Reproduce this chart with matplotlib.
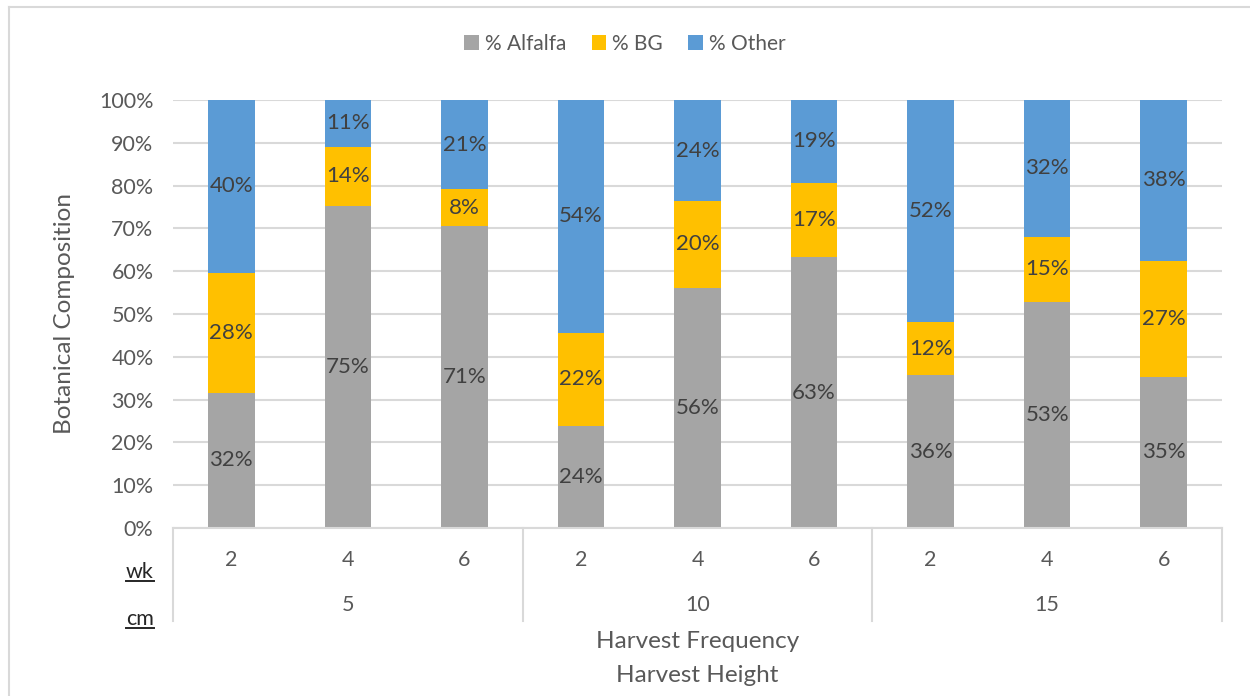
import matplotlib
matplotlib.use("Agg")
import matplotlib.pyplot as plt
from matplotlib.lines import Line2D
from matplotlib.patches import Patch
import matplotlib.transforms as mtransforms

plt.rcParams['font.family'] = ['Lato', 'DejaVu Sans']

# Harvest frequency (weeks) within harvest height (cm)
heights = ["5", "10", "15"]
frequencies = ["2", "4", "6"]
tick_labels = frequencies * len(heights)

alfalfa = [31.6, 75.3, 70.6, 23.8, 56.1, 63.3, 35.7, 52.8, 35.3]
bg = [28.0, 13.8, 8.5, 21.8, 20.3, 17.4, 12.4, 15.2, 27.1]
other = [40.4, 10.9, 20.9, 54.4, 23.6, 19.3, 51.9, 32.0, 37.6]

series_names = ["% Alfalfa", "% BG", "% Other"]
colors = ["#A5A5A5", "#FFC000", "#5B9BD5"]

W, H = 1250, 696
fig = plt.figure(figsize=(W / 100, H / 100), dpi=100)
fig.patch.set_facecolor("white")

left_px, right_px, top_px, bottom_px = 173, 1222, 100, 528
ax = fig.add_axes([left_px / W, 1 - bottom_px / H,
                   (right_px - left_px) / W, (bottom_px - top_px) / H])

x = list(range(len(alfalfa)))
grid_c = "#D9D9D9"
txt_c = "#595959"
lbl_c = "#404040"

bottoms = [0.0] * len(x)
for vals, name, col in zip([alfalfa, bg, other], series_names, colors):
    ax.bar(x, vals, width=0.4, bottom=bottoms, color=col, label=name,
           zorder=3)
    for xi, b, v in zip(x, bottoms, vals):
        ax.text(xi, b + v / 2, f"{v:.0f}%", ha="center", va="center",
                fontsize=16, color=lbl_c, zorder=4)
    bottoms = [b + v for b, v in zip(bottoms, vals)]

ax.set_xlim(-0.5, len(x) - 0.5)
ax.set_ylim(0, 100)
ax.set_yticks(range(0, 101, 10))
ax.set_yticklabels([f"{t}%" for t in range(0, 101, 10)], fontsize=15.5,
                   color=txt_c)
ax.tick_params(axis="y", length=0, pad=14)
ax.set_xticks([])
for s in ax.spines.values():
    s.set_visible(False)
ax.yaxis.grid(True, color=grid_c, linewidth=1.5, zorder=0)
ax.set_axisbelow(True)
ax.set_ylabel("Botanical Composition", fontsize=17.5, color=txt_c)
ax.yaxis.set_label_coords(-(left_px - 75) / (right_px - left_px), 0.5)

# Hierarchical category axis below the plot
blend = mtransforms.blended_transform_factory(ax.transData, ax.transAxes)
px = 1.0 / (bottom_px - top_px)
ax.plot([-0.5, len(x) - 0.5], [0, 0], transform=blend, color=grid_c,
        lw=1.5, clip_on=False, zorder=5)
sep_bottom = -(621 - bottom_px) * px
for i in range(len(heights) + 1):
    xs = i * len(frequencies) - 0.5
    ax.plot([xs, xs], [0, sep_bottom], transform=blend, color=grid_c,
            lw=1.5, clip_on=False)

for xi, lab in zip(x, tick_labels):
    ax.text(xi, -(560 - bottom_px) * px, lab, transform=blend, ha="center",
            va="center", fontsize=15.5, color=txt_c)
for gi, lab in enumerate(heights):
    xc = gi * len(frequencies) + (len(frequencies) - 1) / 2
    ax.text(xc, -(605 - bottom_px) * px, lab, transform=blend, ha="center",
            va="center", fontsize=15.5, color=txt_c)

ax.text(0.5, -(641 - bottom_px) * px, "Harvest Frequency",
        transform=ax.transAxes, ha="center", va="center", fontsize=17.5,
        color=txt_c)
ax.text(0.5, -(675 - bottom_px) * px, "Harvest Height",
        transform=ax.transAxes, ha="center", va="center", fontsize=17.5,
        color=txt_c)

# Underlined unit labels for the two category levels
fig.canvas.draw()
renderer = fig.canvas.get_renderer()
for lab, ypix in [("wk", 572), ("cm", 619)]:
    t = fig.text(154 / W, 1 - ypix / H, lab, ha="right", va="center",
                 fontsize=15.5, color="#262626")
    bb = t.get_window_extent(renderer)
    fig.add_artist(Line2D([bb.x0 / W, bb.x1 / W],
                          [(bb.y0 + 1) / H, (bb.y0 + 1) / H],
                          color="#262626", lw=1.4))

# Legend
handles = [Patch(facecolor=c, edgecolor="none") for c in colors]
fig.legend(handles, series_names, loc="center", ncol=3,
           bbox_to_anchor=(0.5, 1 - 44 / H), frameon=False, fontsize=15,
           handlelength=0.7, handleheight=0.7, handletextpad=0.3,
           columnspacing=1.2, labelcolor=txt_c)

# Chart frame
for xs, ys in [([9 / W, 9 / W], [0, 1 - 7 / H]),
               ([9 / W, 1249 / W], [1 - 7 / H, 1 - 7 / H])]:
    fig.add_artist(Line2D(xs, ys, color="#D9D9D9", lw=1.5))

fig.savefig("out.png", dpi=100, facecolor="white")
